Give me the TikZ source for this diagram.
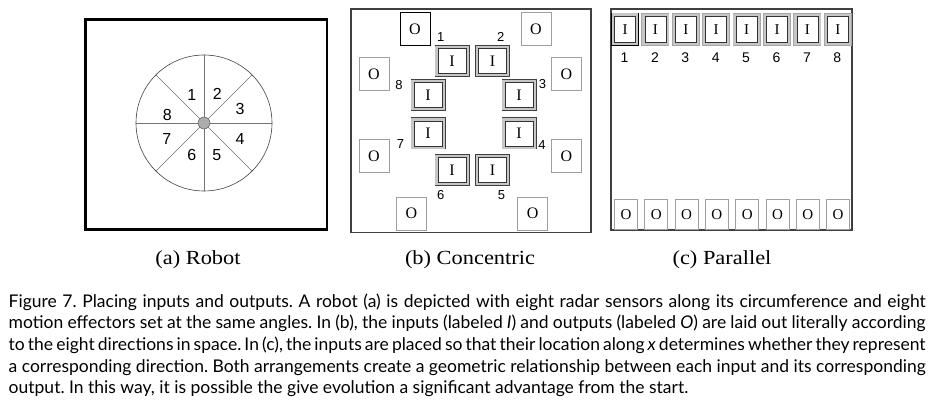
\documentclass[tikz,border=0pt]{standalone}
\usepackage{fontspec}
\setmainfont{Liberation Serif}
\newfontfamily\capfont{Lato}
\newfontfamily\digfont{Liberation Sans}
\usetikzlibrary{positioning}
\frenchspacing

\newcommand{\fullline}[1]{\makebox[917pt][s]{#1}}

\tikzset{
  frame/.style={draw=black!75, line width=1.1pt},
  obox/.style={draw=gray!75, line width=0.7pt, fill=white, minimum width=30pt,
    minimum height=33pt, inner sep=0pt, font=\fontsize{16}{16}\selectfont},
  ibox/.style={preaction={draw=#1, line width=7pt},
    preaction={draw=gray!45, line width=5.4pt},
    draw=black!80, line width=0.8pt, fill=white,
    minimum width=28pt, minimum height=25pt, inner sep=0pt,
    font=\fontsize{16}{16}\selectfont},
  ibox/.default=black!75,
  num/.style={font=\digfont\fontsize{13}{13}\selectfont, inner sep=0pt},
  sub/.style={font=\fontsize{20}{24}\selectfont, inner sep=0pt},
  capline/.style={anchor=base west, inner sep=0pt, font=\capfont\fontsize{17.5}{20}\selectfont},
}

\begin{document}
\begin{tikzpicture}[x=1pt, y=-1pt]
    \useasboundingbox (0,0) rectangle (936,406);

    % (a) Robot
    \draw[line width=2.5pt] (85.3,19.5) rectangle (327,229.5);
    \coordinate (hub) at (204,123);
    \draw[line width=0.6pt, black!75] (hub) circle[radius=68pt];
    \foreach \a in {0,45,...,315}
        \draw[line width=0.6pt, black!55] (hub) -- ++(\a:68pt);
    \node[circle, fill=gray!65, draw=black!70, minimum size=12pt, inner sep=0pt] (core) at (hub) {};
    \node[num, font=\digfont\fontsize{16}{16}\selectfont] (la1) at (191.7,94.5) {1};
    \node[num, font=\digfont\fontsize{16}{16}\selectfont] (la2) at (217.3,93.5) {2};
    \node[num, font=\digfont\fontsize{16}{16}\selectfont] (la3) at (240,108.5) {3};
    \node[num, font=\digfont\fontsize{16}{16}\selectfont] (la4) at (240,138.5) {4};
    \node[num, font=\digfont\fontsize{16}{16}\selectfont] (la5) at (216.7,155) {5};
    \node[num, font=\digfont\fontsize{16}{16}\selectfont] (la6) at (191.7,155) {6};
    \node[num, font=\digfont\fontsize{16}{16}\selectfont] (la7) at (166.7,138.5) {7};
    \node[num, font=\digfont\fontsize{16}{16}\selectfont] (la8) at (167.3,115) {8};

    % (b) Concentric
    \draw[frame] (351,9) rectangle (591,232.5);
    \node[obox, draw=black] (bo1) at (415,29) {O};
    \node[obox] (bo2) at (536,29) {O};
    \node[obox] (bo3) at (566.5,74) {O};
    \node[obox] (bo4) at (566.5,156.3) {O};
    \node[obox] (bo5) at (532.7,213.4) {O};
    \node[obox] (bo6) at (411.5,213.4) {O};
    \node[obox] (bo7) at (374,156.3) {O};
    \node[obox] (bo8) at (374,74) {O};

    \node[ibox] (bi1) at (452,61) {I};
    \node[ibox] (bi2) at (492.5,61) {I};
    \node[ibox] (bi3) at (519,95) {I};
    \node[ibox] (bi4) at (519,133.5) {I};
    \node[ibox] (bi5) at (492.5,170.3) {I};
    \node[ibox] (bi6) at (452,170.3) {I};
    \node[ibox] (bi7) at (428,133.5) {I};
    \node[ibox] (bi8) at (428,95) {I};

    \node[num] (lb1) at (440.7,37.3) {1};
    \node[num] (lb2) at (500.7,37.3) {2};
    \node[num] (lb3) at (542.5,84.5) {3};
    \node[num] (lb4) at (542,145) {4};
    \node[num] (lb5) at (501.5,195) {5};
    \node[num] (lb6) at (440.8,195) {6};
    \node[num] (lb7) at (400.5,144.5) {7};
    \node[num] (lb8) at (399,85) {8};

    % (c) Parallel
    \draw[frame] (611,9) rectangle (852,230);
    \foreach \k in {1,...,8} {
        \node[ibox=gray!70, minimum width=21pt, minimum height=26pt,
              font=\fontsize{15}{15}\selectfont] (ci\k) at ({625+30.4*(\k-1)},29.7) {I};
        \node[num, font=\digfont\fontsize{14}{14}\selectfont] (lc\k) at ({624.5+30.4*(\k-1)},57.5) {\k};
        \node[obox, minimum width=23pt, minimum height=29.5pt,
              font=\fontsize{15}{15}\selectfont] (co\k) at ({626+30.3*(\k-1)},214.3) {O};
    }
    \node[ibox=black, minimum width=21pt, minimum height=26pt,
          font=\fontsize{15}{15}\selectfont] (ci1) at (625,29.2) {I};

    % Sub captions
    \node[sub] (capa) at (198,260) {\scalebox{1.12}[1]{(a) Robot}};
    \node[sub] (capb) at (470,260) {\scalebox{1.12}[1]{(b) Concentric}};
    \node[sub] (capc) at (722,260) {\scalebox{1.12}[1]{(c) Parallel}};

    % Figure caption
    \node[capline] (cap1) at (8.5,307) {\fullline{Figure 7. Placing inputs and outputs. A robot (a) is depicted with eight radar sensors along its circumference and eight}};
    \node[capline] (cap2) at (8.5,328.7) {\fullline{motion effectors set at the same angles. In (b), the inputs (labeled \textit{I}) and outputs (labeled \textit{O}) are laid out literally according}};
    \node[capline] (cap3) at (8.5,350.3) {\fullline{to the eight directions in space. In (c), the inputs are placed so that their location along \textit{x} determines whether they represent}};
    \node[capline] (cap4) at (8.5,372) {\fullline{a corresponding direction. Both arrangements create a geometric relationship between each input and its corresponding}};
    \node[capline] (cap5) at (8.5,393.5) {output. In this way, it is possible the give evolution a significant advantage from the start.};
\end{tikzpicture}
\end{document}
